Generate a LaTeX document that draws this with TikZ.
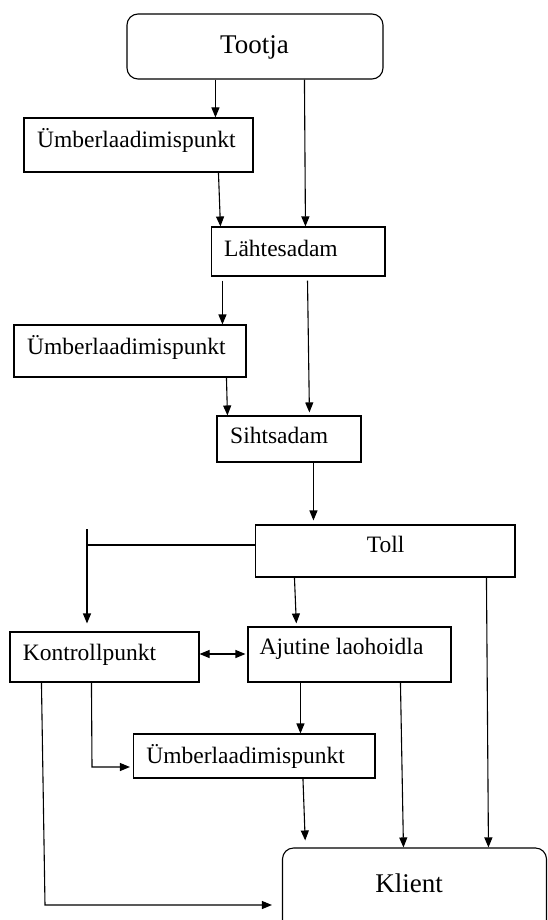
\documentclass[tikz,border=0pt]{standalone}
\usepackage{fontspec}
\setmainfont{Liberation Serif}
\usetikzlibrary{arrows.meta,calc}
\begin{document}
\begin{tikzpicture}[x=1pt,y=-1pt,
  box/.style={draw, line width=1.1pt, inner sep=0pt},
  rbox/.style={box, rounded corners=11pt},
  lbl/.style={inner sep=0pt, font=\fontsize{23.5}{28}\selectfont},
  biglbl/.style={inner sep=0pt, font=\fontsize{27}{32}\selectfont},
  tip/.style={Triangle[length=10pt,width=8pt]},
  arr/.style={line width=1.1pt, -{Triangle[length=10pt,width=8pt]}},
  link/.style={line width=1.1pt}
]
\useasboundingbox (0,0) rectangle (548,920);
\clip (0,0) rectangle (548,920);

% boxes
\node[rbox, minimum width=256pt, minimum height=65pt] (tootja) at (255,46.5) {};
\node[box, minimum width=229pt, minimum height=54pt] (u1) at (138.5,145) {};
\node[box, minimum width=173.5pt, minimum height=49pt] (lah) at (298.25,251.5) {};
\node[box, minimum width=232pt, minimum height=52pt] (u2) at (130,351) {};
\node[box, minimum width=144pt, minimum height=46pt] (siht) at (289,439) {};
\node[box, minimum width=259.5pt, minimum height=52pt] (toll) at (385.25,551) {};
\node[box, minimum width=189pt, minimum height=50pt] (kp) at (104.5,657) {};
\node[box, minimum width=203pt, minimum height=55pt] (aj) at (349.5,654.5) {};
\node[box, minimum width=241.5pt, minimum height=44pt] (u3) at (254.25,756) {};
\node[rbox, minimum width=264pt, minimum height=87pt] (klient) at (414.5,891.5) {};

% labels
\node[biglbl, anchor=base] (tootjaT) at (254.5,53.3) {Tootja};
\node[lbl, anchor=base west] (u1T) at (37,147.7) {Ümberlaadimispunkt};
\node[lbl, anchor=base west] (lahT) at (224,256) {Lähtesadam};
\node[lbl, anchor=base west] (u2T) at (27,354.3) {Ümberlaadimispunkt};
\node[lbl, anchor=base west] (sihtT) at (230,443.3) {Sihtsadam};
\node[lbl, anchor=base] (tollT) at (385.7,552.7) {Toll};
\node[lbl, anchor=base west] (kpT) at (22.7,660) {Kontrollpunkt};
\node[lbl, anchor=base west] (ajT) at (259.4,654) {Ajutine laohoidla};
\node[lbl, anchor=base west] (u3T) at (146.2,763.3) {Ümberlaadimispunkt};
\node[biglbl, anchor=base] (klientT) at (409,892.3) {Klient};

% connectors
\draw[arr] ([xshift=89]tootja.south west) -- ([xshift=192]u1.north west);
\draw[arr] ([xshift=178]tootja.south west) -- ([xshift=94.5]lah.north west);
\draw[arr] ([xshift=195]u1.south west) -- ([xshift=9.5]lah.north west);
\draw[arr, shorten <=4pt] ([xshift=11.5]lah.south west) -- ([xshift=209]u2.north west);
\draw[arr, shorten <=4pt, shorten >=3pt] ([xshift=96.5]lah.south west) -- ([xshift=93]siht.north west);
\draw[arr] ([xshift=213]u2.south west) -- ([xshift=11]siht.north west);
\draw[arr, shorten >=4pt] ([xshift=97]siht.south west) -- ([xshift=58.5]toll.north west);

\coordinate (tk) at (87,545);
\draw[arr, shorten >=8pt] ([yshift=6]toll.west) -- (tk) -- (tk |- kp.north);
\draw[link] (tk) -- ++(0,-16);

\draw[arr, shorten >=3pt] ([xshift=39.5]toll.south west) -- ([xshift=49]aj.north west);
\draw[arr] ([xshift=231.5]toll.south west) -- ([xshift=206.5]klient.north west);

\draw[line width=1.1pt, {Triangle[length=10pt,width=8pt]}-{Triangle[length=10pt,width=8pt]}, shorten >=2pt]
  ([yshift=3]kp.east) -- ([yshift=3]kp.east -| aj.west);

\coordinate (kc) at (45,905);
\draw[arr, shorten >=10pt] ([xshift=32]kp.south west) -- (kc) -- (kc -| klient.west);
\coordinate (uc) at (92,767);
\draw[arr, shorten >=3pt] ([xshift=82]kp.south west) -- (uc) -- (uc -| u3.west);

\draw[arr] ([xshift=53]aj.south west) -- ([xshift=167.5]u3.north west);
\draw[arr] ([xshift=153]aj.south west) -- ([xshift=121.5]klient.north west);
\draw[arr, shorten >=7pt] ([xshift=170]u3.south west) -- ([xshift=23.5]klient.north west);
\end{tikzpicture}
\end{document}
